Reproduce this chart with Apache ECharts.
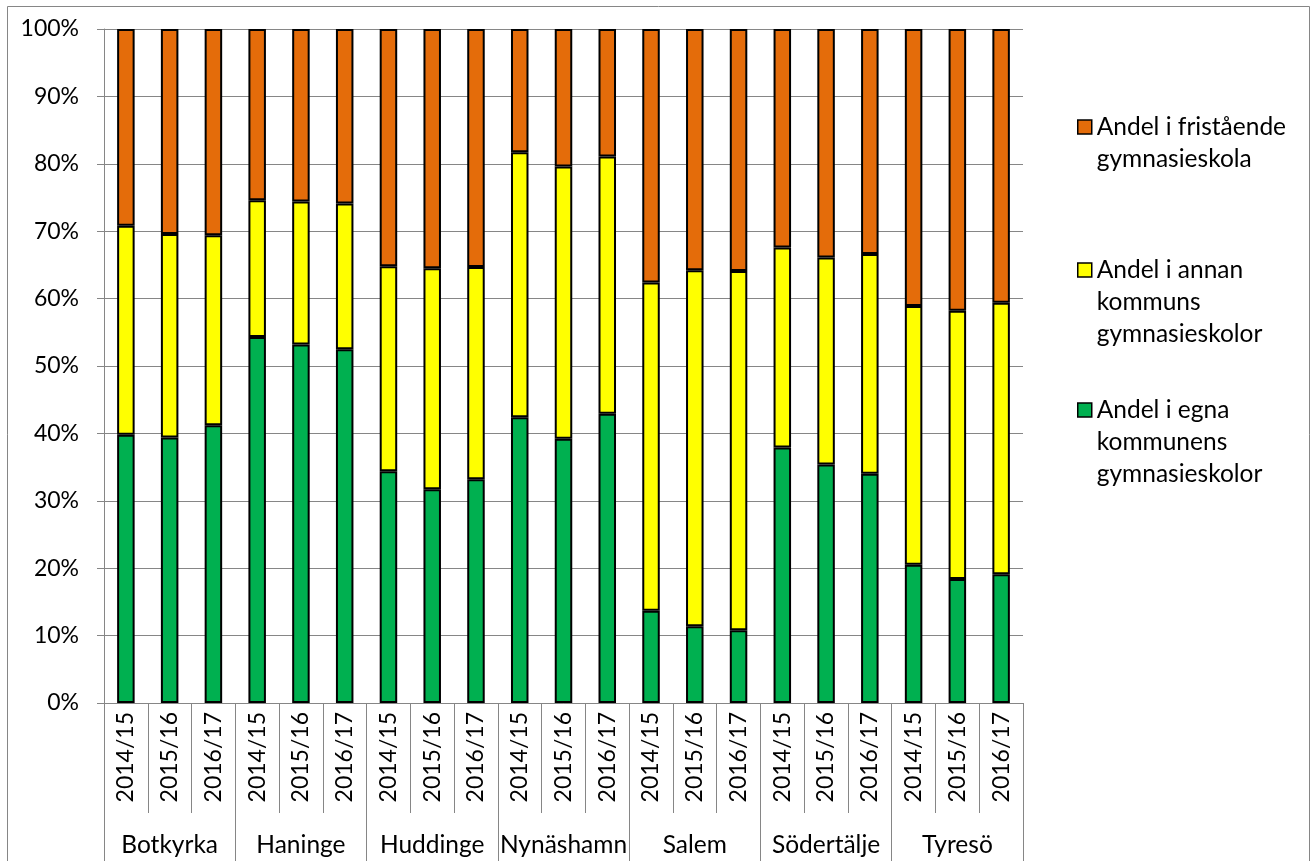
<!DOCTYPE html>
<html><head><meta charset="utf-8">
<script src="https://cdn.jsdelivr.net/npm/echarts@6/dist/echarts.min.js"></script>
<style>html,body{margin:0;padding:0;background:#fff}#c{width:1316px;height:861px}</style>
</head><body><div id="c"></div>
<script>
const municipalities = ['Botkyrka','Haninge','Huddinge','Nynäshamn','Salem','Södertälje','Tyresö'];
const years = ['2014/15','2015/16','2016/17'];
const yTickLabels = ['0%','10%','20%','30%','40%','50%','60%','70%','80%','90%','100%'];
// shares in percent, 21 bars: municipality x year
const egna = [39.8,39.4,41.2, 54.3,53.2,52.5, 34.4,31.7,33.2, 42.4,39.2,42.9, 13.7,11.4,10.8, 37.9,35.4,34.0, 20.5,18.4,19.1];
const annan = [31.0,30.2,28.2, 20.3,21.2,21.6, 30.4,32.8,31.5, 39.3,40.4,38.2, 48.7,52.8,53.3, 29.7,30.7,32.6, 38.4,39.8,40.3];
const fristaende = [29.2,30.4,30.6, 25.4,25.6,25.9, 35.2,35.5,35.3, 18.3,20.4,18.9, 37.6,35.8,35.9, 32.4,33.9,33.4, 41.1,41.8,40.6];
const seriesNames = ['Andel i egna kommunens gymnasieskolor','Andel i annan kommuns gymnasieskolor','Andel i fristående gymnasieskola'];
const legendLines = [
  ['Andel i egna','kommunens','gymnasieskolor'],
  ['Andel i annan','kommuns','gymnasieskolor'],
  ['Andel i fristående','gymnasieskola']
];
const colors = ['#00B050','#FFFF00','#E46C0A'];

const categories = [];
municipalities.forEach(m => years.forEach(y => categories.push(m + '|' + y)));

const FONT = 'Lato';
const GRAY = '#868686';
const FS_NUM = 23;
const FS_TXT = 24.5;
const LH = 32;

function legendFor(i, iconCenterY) {
  const n = legendLines[i].length;
  const lines = [];
  for (let k = 0; k < n - 1; k++) lines.push(' ');
  const text = lines.concat(legendLines[i]).join('\n');
  const total = (2 * n - 1) * LH;
  return {
    orient: 'vertical', left: 1077, top: iconCenterY - total / 2, padding: 0,
    itemWidth: 14, itemHeight: 14, itemGap: 0, icon: 'rect',
    selectedMode: false,
    data: [seriesNames[i]],
    itemStyle: { borderColor: '#000', borderWidth: 1.5 },
    formatter: () => text,
    textStyle: { fontFamily: FONT, fontSize: FS_TXT, color: '#000', lineHeight: LH }
  };
}

const chart = echarts.init(document.getElementById('c'), null, { renderer: 'canvas' });
chart.setOption({
  animation: false,
  backgroundColor: '#fff',
  textStyle: { fontFamily: FONT },
  grid: { left: 104, right: 293, top: 29, bottom: 158, containLabel: false },
  legend: [legendFor(2, 127), legendFor(1, 270), legendFor(0, 410)],
  xAxis: [
    {
      type: 'category', data: categories,
      axisLine: { show: true, lineStyle: { color: GRAY, width: 1 } },
      axisTick: { show: true, interval: 0, length: 110, lineStyle: { color: GRAY, width: 1 } },
      axisLabel: { interval: 0, rotate: 90, margin: 9, fontSize: FS_NUM, color: '#000', fontFamily: FONT,
        formatter: v => v.split('|')[1] },
      splitLine: { show: false }
    },
    {
      type: 'category', data: municipalities, position: 'bottom', offset: 110,
      axisLine: { show: false },
      axisTick: { show: true, interval: 0, length: 48, lineStyle: { color: GRAY, width: 1 } },
      axisLabel: { interval: 0, margin: 20, fontSize: FS_TXT, color: '#000', fontFamily: FONT },
      splitLine: { show: false }
    }
  ],
  yAxis: {
    type: 'value', min: 0, max: 100, interval: 10,
    axisLine: { show: true, lineStyle: { color: GRAY, width: 1 } },
    axisTick: { show: true, length: 7, lineStyle: { color: GRAY, width: 1 } },
    splitLine: { show: true, lineStyle: { color: GRAY, width: 1 } },
    axisLabel: { fontSize: FS_NUM, color: '#000', fontFamily: FONT, margin: 25,
      formatter: v => yTickLabels[Math.round(v / 10)] }
  },
  graphic: [{
    type: 'rect', silent: true, z: -10,
    shape: { x: 7.5, y: 6.5, width: 1302, height: 900 },
    style: { fill: 'none', stroke: GRAY, lineWidth: 1 }
  }],
  series: [egna, annan, fristaende].map((d, i) => ({
    name: seriesNames[i], type: 'bar', stack: 'total', barWidth: '40%',
    data: d,
    itemStyle: { color: colors[i], borderColor: '#000', borderWidth: 2 },
    emphasis: { disabled: true }
  }))
});
</script>
</body></html>
